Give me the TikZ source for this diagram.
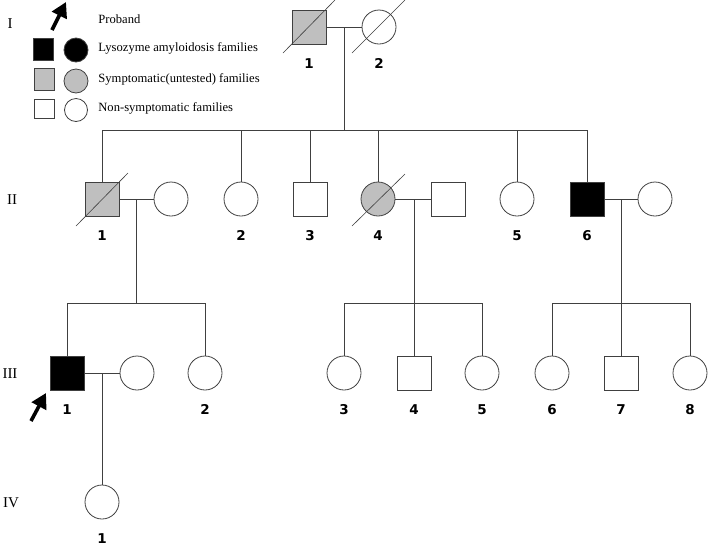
\documentclass[tikz,border=0pt]{standalone}
\usepackage{fontspec}
\setmainfont{Liberation Serif}
\newfontfamily\numfont{DejaVu Sans}
\usetikzlibrary{arrows.meta}

\definecolor{linegray}{rgb}{0.25,0.25,0.25}
\definecolor{symgray}{rgb}{0.75,0.75,0.75}

\begin{document}
\begin{tikzpicture}[x=1pt,y=-1pt,line width=0.8pt,
	male/.style={draw=linegray,rectangle,minimum size=34pt,inner sep=0pt},
	female/.style={draw=linegray,circle,minimum size=34pt,inner sep=0pt},
	affected/.style={fill=black},
	symptom/.style={fill=symgray},
	strike/.style={linegray,line width=0.6pt},
	line/.style={linegray},
	numlab/.style={font=\numfont\bfseries\fontsize{13.5}{13.5}\selectfont,inner sep=0pt},
	genlab/.style={font=\fontsize{15}{15}\selectfont,inner sep=0pt},
	legtext/.style={font=\fontsize{12.6}{12.6}\selectfont,anchor=west,inner sep=0pt},
	proband/.style={line width=3.6pt,-{Triangle[length=15pt,width=16pt]}},
	label distance=13.5pt]

	\useasboundingbox (0,0) rectangle (709,550);

	% Legend
	\coordinate (legtail) at (52,30);
	\coordinate (legtip) at (66,2);
	\draw[proband] (legtail) -- (legtip);
	\node[legtext] (leg0) at (98,19) {Proband};

	\node[male,affected,minimum width=20pt,minimum height=22pt] (legsq1) at (43,49) {};
	\node[female,affected,minimum size=24pt] (legci1) at (76,50) {};
	\node[legtext] (leg1) at (98,48) {Lysozyme amyloidosis families};

	\node[male,symptom,minimum width=20pt,minimum height=22pt] (legsq2) at (44,79) {};
	\node[female,symptom,minimum size=24pt] (legci2) at (76,81) {};
	\node[legtext] (leg2) at (98,79) {Symptomatic(untested) families};

	\node[male,minimum width=20pt,minimum height=19pt] (legsq3) at (44,109) {};
	\node[female,minimum size=23pt] (legci3) at (76,110) {};
	\node[legtext] (leg3) at (98,108) {Non-symptomatic families};

	% Generations
	\node[genlab] (gI) at (10,24) {I};
	\node[genlab] (gII) at (12,200) {II};
	\node[genlab] (gIII) at (10,374) {III};
	\node[genlab] (gIV) at (11,503) {IV};

	% Generation I
	\node[male,symptom,label={[numlab]below:1}] (I1) at (309,27) {};
	\node[female,label={[numlab]below:2}] (I2) at (379,27) {};
	\draw[line] (I1.east) -- (I2.west);
	\draw[strike] ([shift={(-26,26)}]I1.center) -- ([shift={(26,-27)}]I1.center);
	\draw[strike] ([shift={(-27,26)}]I2.center) -- ([shift={(26,-27)}]I2.center);
	\coordinate (m1) at (344,27);
	\coordinate (s1) at (344,130);

	% Generation II
	\node[male,symptom,label={[numlab]below:1}] (II1) at (102,199) {};
	\node[female] (II1w) at (171,199) {};
	\node[female,label={[numlab]below:2}] (II2) at (241,199) {};
	\node[male,label={[numlab]below:3}] (II3) at (310,199) {};
	\node[female,symptom,label={[numlab]below:4}] (II4) at (378,199) {};
	\node[male] (II4h) at (448,199) {};
	\node[female,label={[numlab]below:5}] (II5) at (517,199) {};
	\node[male,affected,label={[numlab]below:6}] (II6) at (587,199) {};
	\node[female] (II6w) at (655,199) {};

	\draw[line] (m1) -- (s1);
	\draw[line] (s1 -| II1) -- (s1 -| II6);
	\foreach \c in {II1,II2,II3,II4,II5,II6}
		\draw[line] (s1 -| \c) -- (\c.north);

	\draw[strike] ([shift={(-26,27)}]II1.center) -- ([shift={(26,-26)}]II1.center);
	\draw[strike] ([shift={(-26,27)}]II4.center) -- ([shift={(27,-25)}]II4.center);

	\draw[line] (II1.east) -- (II1w.west);
	\draw[line] (II4.east) -- (II4h.west);
	\draw[line] (II6.east) -- (II6w.west);
	\coordinate (m2) at (136,199);
	\coordinate (s2) at (136,303);
	\coordinate (m3) at (414,199);
	\coordinate (s3) at (414,303);
	\coordinate (m4) at (621,199);
	\coordinate (s4) at (621,303);

	% Generation III
	\node[male,affected,label={[numlab]below:1}] (III1) at (67,373) {};
	\node[female] (III1w) at (137,373) {};
	\node[female,label={[numlab]below:2}] (III2) at (205,373) {};
	\node[female,label={[numlab]below:3}] (III3) at (344,373) {};
	\node[male,label={[numlab]below:4}] (III4) at (414,373) {};
	\node[female,label={[numlab]below:5}] (III5) at (482,373) {};
	\node[female,label={[numlab]below:6}] (III6) at (552,373) {};
	\node[male,label={[numlab]below:7}] (III7) at (621,373) {};
	\node[female,label={[numlab]below:8}] (III8) at (690,373) {};

	\draw[line] (m2) -- (s2);
	\draw[line] (s2 -| III1) -- (s2 -| III2);
	\foreach \c in {III1,III2}
		\draw[line] (s2 -| \c) -- (\c.north);

	\draw[line] (m3) -- (s3);
	\draw[line] (s3 -| III3) -- (s3 -| III5);
	\foreach \c in {III3,III4,III5}
		\draw[line] (s3 -| \c) -- (\c.north);

	\draw[line] (m4) -- (s4);
	\draw[line] (s4 -| III6) -- (s4 -| III8);
	\foreach \c in {III6,III7,III8}
		\draw[line] (s4 -| \c) -- (\c.north);

	\draw[line] (III1.east) -- (III1w.west);
	\coordinate (m5) at (102,373);

	\coordinate (protail) at (31,421);
	\coordinate (protip) at (46,393);
	\draw[proband] (protail) -- (protip);

	% Generation IV
	\node[female,label distance=10pt,label={[numlab]below:1}] (IV1) at (102,502) {};
	\draw[line] (m5) -- (IV1.north);

\end{tikzpicture}
\end{document}
